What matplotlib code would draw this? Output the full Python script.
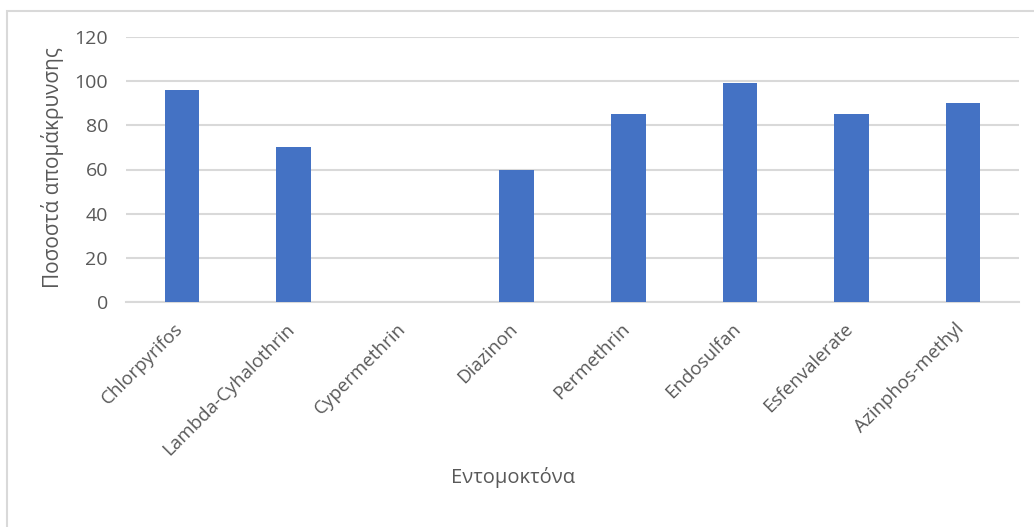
import matplotlib
matplotlib.use("Agg")
import matplotlib.pyplot as plt
from matplotlib.patches import Rectangle
from matplotlib.transforms import ScaledTranslation

# Removal percentage per insecticide
insecticides = ["Chlorpyrifos", "Lambda-Cyhalothrin", "Cypermethrin", "Diazinon",
                "Permethrin", "Endosulfan", "Esfenvalerate", "Azinphos-methyl"]
removal = [96, 70, 0, 60, 85, 99, 85, 90]
y_ticks = [0, 20, 40, 60, 80, 100, 120]

TEXT = "#595959"
GRID = "#D9D9D9"
BAR = "#4472C4"

plt.rcParams["font.family"] = ["Open Sans", "DejaVu Sans"]

W, H = 1034, 527
fig = plt.figure(figsize=(W / 100, H / 100), dpi=100)
fig.patch.set_facecolor("white")

# Chart-area frame (right and bottom edges fall outside the canvas)
fig.add_artist(Rectangle((6.5 / W, -0.05), 1.2, 1 - 10.5 / H + 0.05,
                         transform=fig.transFigure, fill=False,
                         edgecolor=GRID, linewidth=1.5))

ax = fig.add_axes([126 / W, 1 - 302 / H, (1019 - 126) / W, (302 - 37) / H])
x = range(len(insecticides))
ax.bar(x, removal, width=0.31, color=BAR, zorder=3)

ax.set_xlim(-0.5, len(insecticides) - 0.5)
ax.set_ylim(0, 120)
ax.set_yticks(y_ticks)
ax.yaxis.grid(True, color=GRID, linewidth=1.5, zorder=0)
ax.set_axisbelow(True)

for side in ("top", "right", "left"):
    ax.spines[side].set_visible(False)
ax.spines["bottom"].set_color(GRID)
ax.spines["bottom"].set_linewidth(1.5)

ax.tick_params(axis="y", length=0, colors=TEXT, labelsize=14, pad=13)
ax.set_xticks(list(x))
ax.set_xticklabels(insecticides, rotation=45, ha="right", va="top",
                   rotation_mode="anchor", fontsize=13.5)
ax.tick_params(axis="x", length=0, colors=TEXT, pad=13)
shift = ScaledTranslation(-8 / 100, 0, fig.dpi_scale_trans)
for lbl in ax.get_xticklabels():
    lbl.set_transform(lbl.get_transform() + shift)

fig.text(53 / W, 1 - 167.5 / H, "Ποσοστά απομάκρυνσης", color=TEXT,
         fontsize=15, rotation=90, ha="center", va="center")
fig.text(513 / W, 1 - 478 / H, "Εντομοκτόνα", color=TEXT, fontsize=14.5,
         ha="center", va="center")

fig.savefig("out.png", dpi=100, facecolor="white")
